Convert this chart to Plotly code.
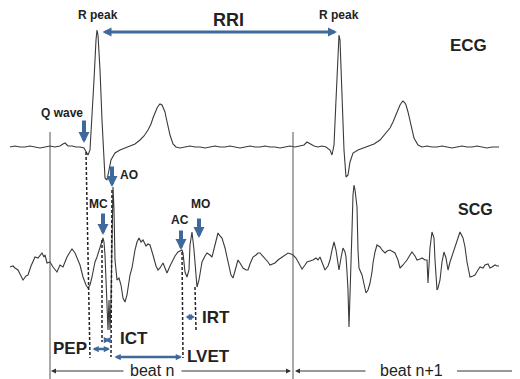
import plotly.graph_objects as go

# ECG waveform (time in px-scale units, amplitude in screen-down units)
ecg_t = [10, 15, 20, 25, 30, 35, 40, 45, 50, 55, 60, 63, 65, 68, 72, 76, 80, 84, 86, 88, 90, 92, 94, 96, 97, 98, 100, 102, 104, 105, 107, 109, 111, 115, 120, 125, 130, 135, 140, 144, 148, 151, 153, 155, 157, 159, 160, 162, 163, 165, 166, 168, 170, 173, 176, 180, 185, 190, 195, 200, 205, 210, 215, 220, 225, 230, 235, 240, 245, 250, 255, 260, 265, 270, 275, 280, 285, 290, 295, 300, 304, 307, 310, 314, 318, 322, 326, 330, 332, 334, 336, 338, 339, 340, 342, 344, 346, 348, 350, 353, 358, 363, 368, 374, 380, 385, 390, 393, 396, 398, 400, 402, 403, 405, 406, 408, 410, 414, 418, 422, 427, 432, 437, 442, 447, 452, 457, 462, 467, 472, 477, 482, 487, 492, 499]
ecg_v = [147, 146, 147, 147, 146, 147, 148, 147, 146, 147, 146, 144, 143, 146, 146, 147, 147, 148, 151, 155, 150, 120, 80, 40, 30, 35, 70, 120, 165, 178, 180, 170, 160, 153, 150, 148, 146, 144, 140, 136, 130, 124, 118, 112, 108, 105, 104, 105, 107, 112, 117, 126, 135, 144, 147, 148, 147, 146, 147, 147, 148, 147, 146, 147, 147, 146, 147, 148, 147, 146, 147, 147, 146, 147, 147, 148, 147, 146, 147, 146, 145, 142, 144, 146, 147, 146, 147, 150, 155, 145, 100, 45, 35, 40, 90, 150, 177, 175, 162, 153, 150, 148, 146, 144, 140, 134, 128, 122, 115, 109, 105, 102, 101, 103, 105, 112, 120, 138, 145, 147, 146, 147, 147, 146, 147, 148, 147, 146, 147, 147, 146, 147, 148, 147, 147]

# SCG waveform
scg_t = [10, 13, 15, 18, 21, 23, 26, 28, 31, 33, 35, 38, 40, 42, 44, 45, 47, 50, 53, 55, 57, 60, 63, 65, 67, 70, 72, 75, 78, 80, 83, 86, 88, 90, 92, 95, 97, 100, 102, 103, 104, 105, 106, 107, 108, 109, 110, 111, 112, 113, 114, 115, 117, 119, 121, 123, 125, 127, 130, 132, 135, 137, 139, 141, 143, 146, 148, 150, 153, 156, 158, 160, 163, 165, 167, 170, 173, 175, 178, 180, 182, 183, 185, 187, 189, 190, 192, 194, 196, 197, 199, 202, 205, 207, 210, 212, 215, 218, 220, 222, 225, 227, 229, 231, 233, 235, 238, 240, 243, 246, 248, 250, 253, 256, 258, 260, 263, 265, 268, 270, 273, 275, 278, 281, 283, 286, 288, 291, 293, 296, 298, 300, 302, 305, 307, 310, 313, 316, 318, 320, 322, 325, 328, 330, 332, 334, 336, 337, 339, 341, 343, 345, 346, 347, 348, 349, 350, 351, 352, 353, 354, 355, 357, 358, 359, 362, 364, 366, 368, 370, 372, 373, 375, 377, 380, 382, 385, 387, 390, 393, 395, 398, 400, 403, 407, 410, 412, 415, 417, 420, 422, 425, 427, 428, 429, 430, 432, 434, 435, 437, 438, 440, 442, 444, 446, 448, 450, 453, 456, 460, 463, 465, 467, 470, 473, 475, 478, 480, 483, 485, 488, 490, 492, 495, 497, 499]
scg_v = [267, 266, 268, 270, 276, 280, 276, 275, 266, 262, 257, 258, 255, 253, 257, 255, 263, 262, 267, 270, 272, 265, 267, 262, 257, 252, 249, 253, 260, 265, 277, 285, 288, 285, 277, 262, 257, 247, 240, 238, 242, 255, 280, 315, 330, 300, 330, 300, 230, 187, 210, 260, 280, 278, 285, 298, 302, 295, 275, 268, 250, 242, 238, 242, 240, 246, 244, 245, 255, 266, 270, 268, 263, 268, 273, 266, 260, 256, 252, 251, 250, 253, 272, 277, 270, 245, 232, 250, 278, 287, 280, 262, 256, 253, 255, 257, 245, 233, 236, 238, 248, 257, 268, 275, 278, 270, 260, 263, 268, 270, 270, 264, 257, 255, 253, 253, 256, 258, 262, 265, 264, 263, 260, 258, 257, 255, 253, 254, 255, 258, 262, 266, 269, 265, 262, 261, 260, 258, 260, 257, 262, 270, 266, 260, 250, 242, 250, 257, 270, 258, 248, 252, 257, 272, 290, 327, 300, 265, 230, 195, 185, 190, 207, 250, 268, 275, 283, 293, 290, 283, 272, 263, 252, 245, 247, 250, 253, 251, 250, 252, 253, 260, 268, 265, 260, 255, 252, 256, 260, 259, 258, 260, 260, 283, 270, 248, 232, 238, 260, 290, 288, 280, 262, 252, 258, 270, 262, 253, 245, 232, 238, 247, 262, 277, 276, 275, 270, 267, 268, 265, 264, 268, 267, 265, 266, 266]

BLUE = "#40699b"
INK = "#3a3a3a"
FONT = "Liberation Sans, Arial, sans-serif"

fig = go.Figure()
fig.add_trace(go.Scatter(x=ecg_t, y=ecg_v, mode="lines",
                         line=dict(color=INK, width=1.1), hoverinfo="skip"))
fig.add_trace(go.Scatter(x=scg_t, y=scg_v, mode="lines",
                         line=dict(color=INK, width=1.1), hoverinfo="skip"))

shapes = []
# solid vertical beat separators
for xv in (50, 293):
    shapes.append(dict(type="line", x0=xv, x1=xv, y0=132, y1=379,
                       line=dict(color="#555555", width=1)))
# dashed markers
for (x0, y0, x1, y1) in [(86, 152, 90, 358), (102, 240, 102, 342), (112, 190, 111, 357),
                         (182, 252, 183, 358), (195, 287, 196, 330)]:
    shapes.append(dict(type="line", x0=x0, x1=x1, y0=y0, y1=y1,
                       line=dict(color="#222222", width=1.5, dash="3px,2px")))
# beat lines (plain parts)
shapes.append(dict(type="line", x0=457, x1=520, y0=371, y1=371,
                   line=dict(color="#333333", width=1)))

ann = []


def text(x, y, s, size=11, bold=True, color="#222222", anchor="center"):
    ann.append(dict(x=x, y=y, text=("<b>%s</b>" % s) if bold else s, showarrow=False,
                    font=dict(family=FONT, size=size, color=color), xanchor=anchor,
                    yanchor="middle"))


def arrow(x, y, ax, ay, width=4, head=2, size=0.55, color=BLUE, both=False):
    d = dict(x=x, y=y, ax=ax, ay=ay, axref="x", ayref="y", xref="x", yref="y",
             text="", showarrow=True, arrowhead=head, arrowsize=size,
             arrowwidth=width, arrowcolor=color)
    if both:
        d.update(arrowside="end+start", startarrowhead=head, startarrowsize=size)
    ann.append(d)


# labels
text(98, 15, "R peak", 12)
text(339, 15, "R peak", 12)
text(228, 20, "RRI", 18)
text(468, 45, "ECG", 17)
text(475, 209, "SCG", 16)
text(62, 113, "Q wave", 12)
text(129, 175, "AO", 12)
text(98, 204, "MC", 12)
text(180, 220, "AC", 12)
text(200, 204, "MO", 12)
text(70, 348, "PEP", 17)
text(134, 338, "ICT", 17)
text(208, 356, "LVET", 17)
text(216, 317, "IRT", 17)
text(152, 370, "beat n", 16, bold=False)
text(411, 370, "beat n+1", 16, bold=False)

# blue down arrows
arrow(84, 143, 84, 119)
arrow(112, 187, 112, 165)
arrow(103, 235, 103, 212)
arrow(181, 250, 181, 229)
arrow(199, 238, 199, 217)

# double-headed horizontal arrows
arrow(337, 32, 101, 32, width=3, head=2, size=0.6, both=True)
arrow(110, 349, 91, 349, width=2.5, head=2, size=0.5, both=True)
arrow(110, 340, 103, 340, width=2.5, head=2, size=0.5, both=True)
arrow(182, 357, 113, 357, width=2.5, head=2, size=0.5, both=True)
arrow(195, 317, 184, 317, width=2.5, head=2, size=0.5, both=True)

# beat arrows
arrow(51, 371, 125, 371, width=1, head=2, size=1, color="#333333")
arrow(291, 371, 180, 371, width=1, head=2, size=1, color="#333333")
arrow(295, 371, 367, 371, width=1, head=2, size=1, color="#333333")

# The page body has an 8px default margin: size the figure to fit the window
# and start the axis ranges at 8 so screen pixels line up with the reference.
fig.update_layout(
    width=512, height=371, margin=dict(l=0, r=0, t=0, b=0),
    paper_bgcolor="white", plot_bgcolor="white", showlegend=False,
    xaxis=dict(range=[8, 520], visible=False, fixedrange=True),
    yaxis=dict(range=[379, 8], visible=False, fixedrange=True),
    shapes=shapes, annotations=ann,
)
fig.write_html("out.html", config={"displayModeBar": False})
